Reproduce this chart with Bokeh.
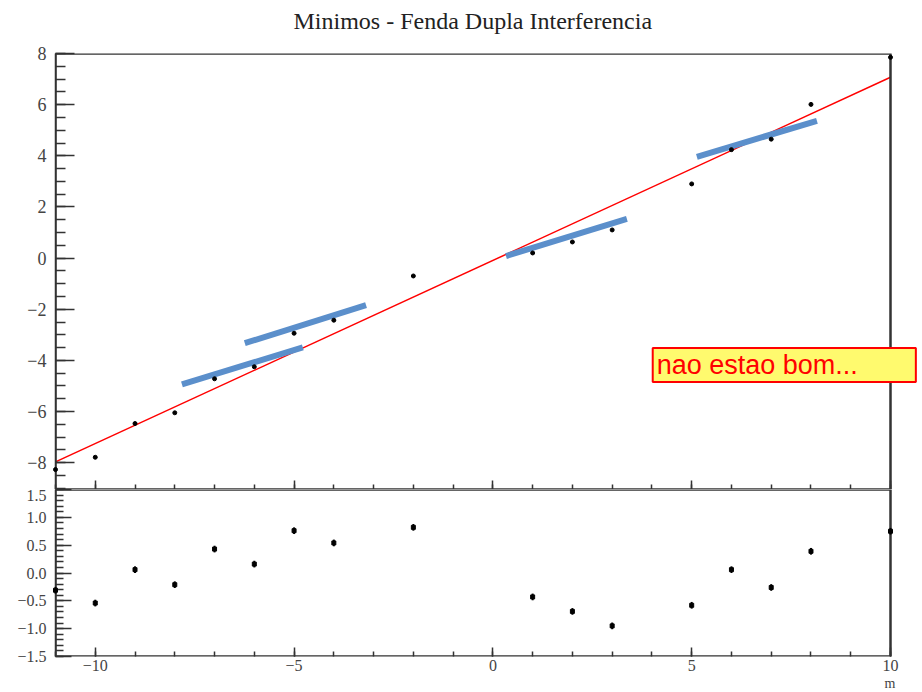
from bokeh.plotting import figure
from bokeh.layouts import column
from bokeh.models import (Range1d, SingleIntervalTicker, CustomJSTickFormatter,
                          Label, Title, ColumnDataSource, BoxAnnotation)
from bokeh.embed import file_html
from bokeh.resources import INLINE

# ---------------- data ----------------
m_vals = [-11, -10, -9, -8, -7, -6, -5, -4, -2, 1, 2, 3, 5, 6, 7, 8, 10]
y_vals = [-8.27, -7.79, -6.47, -6.05, -4.72, -4.25, -2.94, -2.43, -0.70,
          0.20, 0.63, 1.10, 2.90, 4.24, 4.65, 6.01, 7.85]
res_vals = [-0.31, -0.54, 0.06, -0.21, 0.43, 0.16, 0.76, 0.54, 0.82,
            -0.43, -0.69, -0.95, -0.58, 0.06, -0.26, 0.39, 0.75]
res_err = [0.06, 0.06, 0.06, 0.06, 0.06, 0.06, 0.06, 0.06, 0.06,
           0.06, 0.06, 0.06, 0.06, 0.06, 0.06, 0.06, 0.06]

fit_x = [-11, 10]
fit_y = [-7.97, 7.07]

# hand-drawn blue marks (annotation strokes)
blue_x0 = [-7.82, -6.24, 0.33, 5.13]
blue_y0 = [-4.94, -3.33, 0.08, 3.96]
blue_x1 = [-4.78, -3.19, 3.37, 8.15]
blue_y1 = [-3.49, -1.84, 1.53, 5.37]

title_text = "Minimos - Fenda Dupla Interferencia"
note_text = "nao estao bom..."
x_title = "m"

X_MIN, X_MAX = -11, 10
Y_MIN, Y_MAX = -9.05, 8
R_MIN, R_MAX = -1.5, 1.5

FONT = "Liberation Serif"
AX = "#333333"
LAB = "#444444"

# frames span 55..922 px so the note box can reach past x=10 (890 px)
px_per_unit = 835 / (X_MAX - X_MIN)
x_ext = X_MAX + 32 / px_per_unit


def style_axis(ax, font_size):
    ax.major_tick_line_color = AX
    ax.minor_tick_line_color = AX
    ax.major_tick_line_width = 1.5
    ax.minor_tick_line_width = 1.5
    ax.major_tick_out = 0
    ax.minor_tick_out = 0
    ax.major_label_text_font = FONT
    ax.major_label_text_font_size = font_size
    ax.major_label_text_color = LAB


# ---------------- main panel ----------------
p = figure(width=922, height=489, x_range=Range1d(X_MIN, x_ext),
           y_range=Range1d(Y_MIN, Y_MAX),
           output_backend="svg", toolbar_location=None,
           min_border_left=55, min_border_right=0, min_border_top=53,
           min_border_bottom=0)
p.title = Title(text=title_text, align="left", offset=238, text_font=FONT,
                text_font_size="24px", text_font_style="normal",
                text_color="#222222")
# spacer between the frame and the title (lifts the title)
p.add_layout(Title(text=" ", text_font_size="1px", standoff=12), "above")
p.grid.visible = False
p.background_fill_color = "white"
p.border_fill_color = "white"
p.outline_line_color = None

p.yaxis.ticker = SingleIntervalTicker(interval=2, num_minor_ticks=4)
p.yaxis.formatter = CustomJSTickFormatter(code="return tick.toFixed(0).replace('-', '\u2212');")
style_axis(p.yaxis, "18px")
p.yaxis.major_tick_in = 19
p.yaxis.minor_tick_in = 10
p.yaxis.major_label_standoff = 9
p.yaxis.axis_line_color = AX
p.yaxis.axis_line_width = 1.5

p.xaxis.ticker = SingleIntervalTicker(interval=5, num_minor_ticks=5)
style_axis(p.xaxis, "0px")
p.xaxis.major_tick_in = 9
p.xaxis.minor_tick_in = 5
p.xaxis.major_label_standoff = 0
p.xaxis.axis_line_color = None

p.add_layout(BoxAnnotation(left=X_MIN, right=X_MAX, top=Y_MAX, bottom=Y_MIN,
                           fill_alpha=0, line_color=AX, line_alpha=1,
                           line_width=2.5))

src = ColumnDataSource(dict(m=m_vals, y=y_vals, r=res_vals,
                            rlo=[a - b for a, b in zip(res_vals, res_err)],
                            rhi=[a + b for a, b in zip(res_vals, res_err)]))

p.line(fit_x, fit_y, line_color="red", line_width=1.5)
p.segment(blue_x0, blue_y0, blue_x1, blue_y1, line_color="#5b8fcb",
          line_width=6)
p.scatter("m", "y", source=src, size=4, color="black", level="overlay")

note = Label(x=4.02, y=-4.18, text=note_text, text_font="Liberation Sans",
             text_font_size="27px", text_color="red", text_baseline="middle",
             text_align="left",
             background_fill_color="#fffa6e", border_line_color="red",
             border_line_width=2,
             padding=dict(left=4, right=58, top=2, bottom=2))
p.add_layout(note)

# ---------------- residual panel ----------------
q = figure(width=922, height=203, x_range=Range1d(X_MIN, x_ext),
           y_range=Range1d(R_MIN, R_MAX),
           output_backend="svg", toolbar_location=None,
           min_border_left=55, min_border_right=0, min_border_top=0,
           min_border_bottom=36)
q.grid.visible = False
q.background_fill_color = "white"
q.border_fill_color = "white"
q.outline_line_color = None

q.yaxis.ticker = SingleIntervalTicker(interval=0.5, num_minor_ticks=5)
q.yaxis.formatter = CustomJSTickFormatter(code="return tick.toFixed(1).replace('-', '\u2212');")
style_axis(q.yaxis, "16px")
q.yaxis.major_tick_in = 16
q.yaxis.minor_tick_in = 8
q.yaxis.major_label_standoff = 9
q.yaxis.axis_line_color = AX
q.yaxis.axis_line_width = 1.5

q.xaxis.ticker = SingleIntervalTicker(interval=5, num_minor_ticks=5)
q.xaxis.formatter = CustomJSTickFormatter(code="return tick.toFixed(0).replace('-', '\u2212');")
style_axis(q.xaxis, "16px")
q.xaxis.major_tick_in = 9
q.xaxis.minor_tick_in = 5
q.xaxis.major_label_standoff = 3
q.xaxis.axis_line_color = None

q.add_layout(BoxAnnotation(left=X_MIN, right=X_MAX, top=R_MAX, bottom=R_MIN,
                           fill_alpha=0, line_color=AX, line_alpha=1,
                           line_width=2.5))

q.segment("m", "rlo", "m", "rhi", source=src, line_color="black", line_width=2,
          level="overlay")
q.scatter("m", "r", source=src, marker="square", size=4, color="black",
          level="overlay")

q.add_layout(Title(text=x_title, align="right", offset=27, text_font=FONT,
                   text_font_size="14px", text_font_style="normal",
                   text_color=LAB, standoff=0), "below")

layout = column(p, q, spacing=0)
open("out.html", "w").write(file_html(layout, INLINE))
